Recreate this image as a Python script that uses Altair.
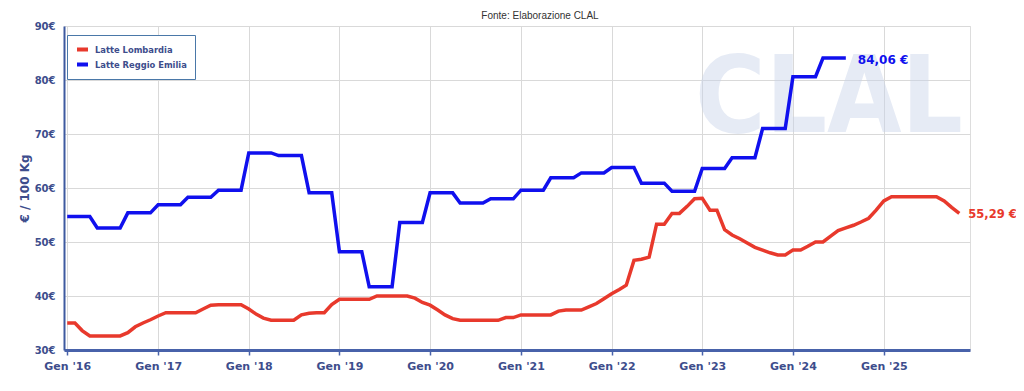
import altair as alt
import pandas as pd

START = "2016-01-01"
SERIES = ["Latte Lombardia", "Latte Reggio Emilia"]
COLORS = ["#e8392c", "#1010ee"]
YEARS = list(range(2016, 2026))
Y_TICKS = [30, 40, 50, 60, 70, 80, 90]
SOURCE = "Fonte: Elaborazione CLAL"
WATERMARK = "CLAL"

# monthly values, Jan 2016 onward
lombardia = [
    35.0, 35.0, 33.6, 32.6, 32.6, 32.6, 32.6, 32.6, 33.2, 34.3, 35.0, 35.6,  # 2016
    36.3, 36.9, 36.9, 36.9, 36.9, 36.9, 37.6, 38.3, 38.4, 38.4, 38.4, 38.4,  # 2017
    37.6, 36.6, 35.9, 35.5, 35.5, 35.5, 35.5, 36.5, 36.8, 36.9, 36.9, 38.4,  # 2018
    39.4, 39.4, 39.4, 39.4, 39.4, 40.0, 40.0, 40.0, 40.0, 40.0, 39.6, 38.8,  # 2019
    38.3, 37.4, 36.5, 35.8, 35.5, 35.5, 35.5, 35.5, 35.5, 35.5, 36.0, 36.0,  # 2020
    36.5, 36.5, 36.5, 36.5, 36.5, 37.2, 37.4, 37.4, 37.4, 38.0, 38.6, 39.5,  # 2021
    40.4, 41.2, 42.0, 46.6, 46.8, 47.2, 53.3, 53.3, 55.3, 55.3, 56.6, 58.0,  # 2022
    58.1, 55.9, 55.9, 52.3, 51.3, 50.6, 49.8, 49.0, 48.5, 48.0, 47.6, 47.6,  # 2023
    48.5, 48.5, 49.2, 50.0, 50.0, 51.1, 52.1, 52.6, 53.1, 53.7, 54.4, 55.9,  # 2024
    57.6, 58.4, 58.4, 58.4, 58.4, 58.4, 58.4, 58.4, 57.6, 56.4, 55.29,        # 2025
]

reggio_emilia = [
    54.7, 54.7, 54.7, 54.7, 52.6, 52.6, 52.6, 52.6, 55.4, 55.4, 55.4, 55.4,  # 2016
    56.9, 56.9, 56.9, 56.9, 58.3, 58.3, 58.3, 58.3, 59.6, 59.6, 59.6, 59.6,  # 2017
    66.5, 66.5, 66.5, 66.5, 66.0, 66.0, 66.0, 66.0, 59.1, 59.1, 59.1, 59.1,  # 2018
    48.2, 48.2, 48.2, 48.2, 41.7, 41.7, 41.7, 41.7, 53.6, 53.6, 53.6, 53.6,  # 2019
    59.1, 59.1, 59.1, 59.1, 57.2, 57.2, 57.2, 57.2, 58.0, 58.0, 58.0, 58.0,  # 2020
    59.6, 59.6, 59.6, 59.6, 61.9, 61.9, 61.9, 61.9, 62.8, 62.8, 62.8, 62.8,  # 2021
    63.8, 63.8, 63.8, 63.8, 60.9, 60.9, 60.9, 60.9, 59.4, 59.4, 59.4, 59.4,  # 2022
    63.6, 63.6, 63.6, 63.6, 65.6, 65.6, 65.6, 65.6, 71.0, 71.0, 71.0, 71.0,  # 2023
    80.6, 80.6, 80.6, 80.6, 84.06, 84.06, 84.06, 84.06,                      # 2024
]


def frame(name, values):
    dates = pd.date_range(START, periods=len(values), freq="MS").strftime("%Y-%m-%dT00:00:00")
    return pd.DataFrame({"date": list(dates), "value": values, "series": name})


df = pd.concat([frame(SERIES[0], lombardia), frame(SERIES[1], reggio_emilia)], ignore_index=True)
df_end = df.groupby("series", as_index=False).tail(1).copy()
df_end["label"] = df_end["value"].map(lambda v: f"{v:.2f}".replace(".", ",") + " €")

AXIS_TEXT = "#3d4d8c"
FONT = "DejaVu Sans"

x_enc = alt.X(
    "date:T",
    scale=alt.Scale(domain=[alt.DateTime(year=2015, month=12, date=19),
                            alt.DateTime(year=2025, month=12, date=14)]),
    axis=alt.Axis(
        values=[alt.DateTime(year=y, month=1, date=1) for y in YEARS],
        labelExpr="\"Gen '\" + timeFormat(datum.value, '%y')",
        title=None, grid=True, gridColor="#d9d9d9", gridWidth=1,
        domainColor="#4862aa", domainWidth=3,
        tickColor="#4862aa", tickSize=5, tickWidth=1.5,
        labelFont=FONT, labelFontSize=11, labelFontWeight="bold",
        labelColor=AXIS_TEXT, labelPadding=5, labelFlush=False, labelOverlap=False,
    ),
)
y_enc = alt.Y(
    "value:Q",
    scale=alt.Scale(domain=[30, 90], nice=False, zero=False),
    axis=alt.Axis(
        values=Y_TICKS, labelExpr="datum.value + '€'",
        title="€ / 100 Kg", grid=True, gridColor="#d9d9d9", gridWidth=1,
        domainColor="#3e5aa0", domainWidth=2, ticks=False,
        labelFont=FONT, labelFontSize=10, labelFontWeight="bold",
        labelColor=AXIS_TEXT, labelPadding=9,
        titleFont=FONT, titleFontSize=12, titleFontWeight="bold",
        titleColor=AXIS_TEXT, titlePadding=3,
    ),
)
color_scale = alt.Scale(domain=SERIES, range=COLORS)

watermark = alt.Chart(pd.DataFrame({"t": [WATERMARK]})).mark_text(
    font="DejaVu Sans Condensed", fontWeight="bold", fontSize=107,
    color="#c8d3ea", opacity=0.45, align="left", baseline="alphabetic",
).encode(x=alt.value(631), y=alt.value(106), text="t:N")

source_text = alt.Chart(pd.DataFrame({"t": [SOURCE]})).mark_text(
    font="Liberation Sans", fontSize=10, color="#333333", align="center", baseline="alphabetic"
).encode(x=alt.value(476), y=alt.value(-7), text="t:N")

lines = alt.Chart(df).mark_line(strokeWidth=3.5).encode(
    x=x_enc, y=y_enc,
    color=alt.Color(
        "series:N", scale=color_scale, sort=SERIES,
        legend=alt.Legend(
            title=None, orient="none", legendX=3, legendY=9, direction="vertical",
            strokeColor="#4a78a8", fillColor="white", padding=8, cornerRadius=0,
            symbolType="stroke", symbolSize=121, symbolStrokeWidth=4, clipHeight=13,
            labelFont="DejaVu Sans Condensed", labelFontSize=9.3, labelFontWeight="bold",
            labelColor=AXIS_TEXT, rowPadding=2, labelOffset=5,
        ),
    ),
)

blue_label = alt.Chart(df_end).transform_filter(
    alt.datum.series == SERIES[1]
).mark_text(
    font=FONT, fontSize=12, fontWeight="bold", align="left", baseline="middle", dx=12, dy=2
).encode(
    x="date:T", y="value:Q", text="label:N",
    color=alt.Color("series:N", scale=color_scale, legend=None),
)

red_label = alt.Chart(df_end).transform_filter(
    alt.datum.series == SERIES[0]
).mark_text(
    font=FONT, fontSize=11.5, fontWeight="bold", align="left", baseline="middle", dx=9, dy=2
).encode(
    x="date:T", y="value:Q", text="label:N",
    color=alt.Color("series:N", scale=color_scale, legend=None),
)

chart = alt.layer(watermark, source_text, lines, blue_label, red_label).properties(
    width=906, height=324,
    autosize=alt.AutoSizeParams(type="none"),
    padding={"left": 56, "top": 18, "right": 46, "bottom": 30},
).configure_view(stroke=None).configure(background="white")

chart.save("out.html", embed_options={"renderer": "svg", "actions": False})
